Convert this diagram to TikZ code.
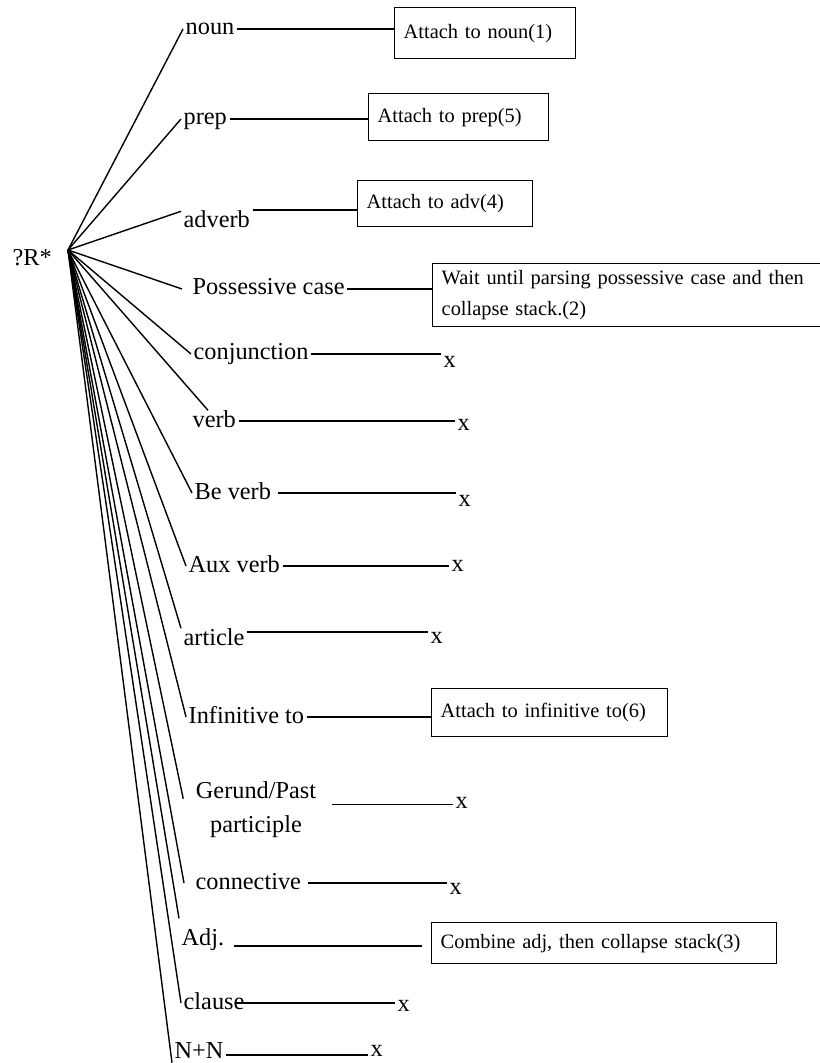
\documentclass[tikz,border=0pt]{standalone}
\usepackage{fontspec}
\setmainfont{Liberation Serif}
\begin{document}
\begin{tikzpicture}[x=0.5pt,y=-0.5pt,line width=0.7pt]
        \tikzstyle{word}=[font=\fontsize{12.15pt}{17pt}\selectfont, inner xsep=1pt, inner ysep=0pt, text height=8pt, text depth=2pt, anchor=base west]
        \tikzstyle{action}=[draw, font=\fontsize{10.2pt}{15.5pt}\selectfont, inner xsep=4.5pt, inner ysep=0pt, align=left, anchor=north west]
        \tikzstyle{reject}=[font=\fontsize{12.15pt}{17pt}\selectfont, inner xsep=1pt, inner ysep=0pt, anchor=base west]
        \useasboundingbox (0,0) rectangle (819,1063);
        \node[word] (rt) at (10,266) {?R*};
        \coordinate (r) at (68,250);
        \node[word] (noun) at (183,35) {noun};
        \node[word] (prep) at (181,125) {prep};
        \node[word] (adv) at (181,228) {adverb};
        \node[word] (poss) at (190,295) {Possessive case};
        \node[word] (conj) at (191,360) {conjunction};
        \node[word] (verb) at (190,427) {verb};
        \node[word] (be) at (192,499) {Be verb};
        \node[word] (aux) at (186,572) {Aux verb};
        \node[word] (art) at (181,645) {article};
        \node[word] (inf) at (186,723) {Infinitive to};
        \node[font=\fontsize{12.15pt}{17pt}\selectfont, inner xsep=1pt, inner ysep=0pt, align=center, anchor=north] (ger) at (256,781) {Gerund/Past\\participle};
        \node[word] (conn) at (193,889) {connective};
        \node[word] (adj) at (179,945) {Adj.};
        \node[word] (cls) at (181,1009) {clause};
        \node[word] (nn) at (172,1058) {N+N};
        \node[action, text width=81.5pt, minimum height=25.5pt] (b1) at (394,7) {Attach to noun(1)};
        \node[action, text width=81pt, minimum height=23.5pt] (b2) at (368,93) {Attach to prep(5)};
        \node[action, text width=78.5pt, minimum height=23pt] (b3) at (357,180) {Attach to adv(4)};
        \node[action, text width=186pt, minimum height=31.5pt] (b4) at (432,263) {Wait until parsing possessive case and then\\collapse stack.(2)};
        \node[action, text width=109pt, minimum height=24pt] (b5) at (431,688) {Attach to infinitive to(6)};
        \node[action, text width=163.5pt, minimum height=20.5pt] (b6) at (431,922) {Combine adj, then collapse stack(3)};
        \node[reject] (x1) at (441,367) {x};
        \node[reject] (x2) at (455,430) {x};
        \node[reject] (x3) at (456,506) {x};
        \node[reject] (x4) at (449,571) {x};
        \node[reject] (x5) at (428,643) {x};
        \node[reject] (x6) at (453,808) {x};
        \node[reject] (x7) at (447,894) {x};
        \node[reject] (x8) at (395,1011) {x};
        \node[reject] (x9) at (368,1056) {x};
        \draw (r) -- (noun.west);
        \draw (r) -- (prep.west);
        \draw (r) -- (adv.north west);
        \draw (r) -- ([xshift=-4pt]poss.west);
        \draw (r) -- (conj.west);
        \draw (r) -- ([xshift=9pt]verb.north west);
        \draw (r) -- (be.west);
        \draw (r) -- (aux.west);
        \draw (r) -- (art.north west);
        \draw (r) -- (inf.west);
        \draw (r) -- ([xshift=-5pt,yshift=5.5pt]ger.west);
        \draw (r) -- ([xshift=-4.5pt]conn.west);
        \draw (r) -- ([yshift=5pt]adj.north west);
        \draw (r) -- (cls.west);
        \draw (r) -- (nn.south west);
        \draw (noun.east) -- (noun.east -| b1.west);
        \draw (prep.east) -- (prep.east -| b2.west);
        \draw ([yshift=6pt]adv.east) -- ([yshift=6pt]adv.east -| b3.west);
        \draw (poss.east) -- (poss.east -| b4.west);
        \draw (conj.east) -- (conj.east -| x1.west);
        \draw (verb.east) -- (verb.east -| x2.west);
        \draw ([xshift=2pt]be.east) -- (be.east -| x3.west);
        \draw (aux.east) -- (aux.east -| x4.west);
        \draw ([yshift=3.5pt]art.east) -- ([yshift=3.5pt]art.east -| x5.west);
        \draw (inf.east) -- (inf.east -| b5.west);
        \draw ([xshift=6.5pt,yshift=2.5pt]ger.east) -- ([yshift=2.5pt]ger.east -| x6.west);
        \draw ([xshift=2pt]conn.east) -- (conn.east -| x7.west);
        \draw ([xshift=3.5pt,yshift=-3.5pt]adj.east) -- ([xshift=-4.5pt,yshift=-3.5pt]adj.east -| b6.west);
        \draw ([xshift=-6pt]cls.east) -- (cls.east -| x8.west);
        \draw ([yshift=-1.5pt]nn.east) -- ([yshift=-1.5pt]nn.east -| x9.west);
\end{tikzpicture}
\end{document}
